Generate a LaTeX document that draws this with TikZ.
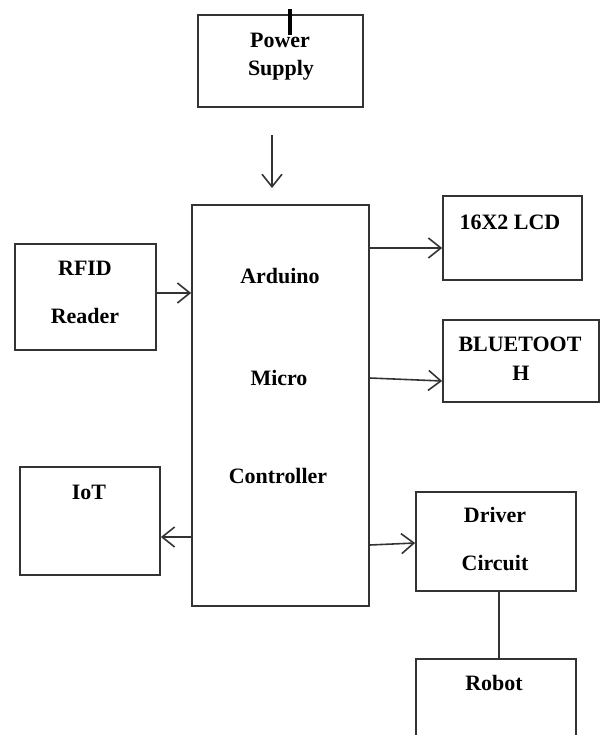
\documentclass[tikz,border=0pt]{standalone}
\usepackage{fontspec}
\setmainfont{Liberation Serif}
\usepackage{tikz}
\usetikzlibrary{arrows.meta}

\begin{document}
\begin{tikzpicture}[x=0.02cm, y=-0.02cm,
    box/.style={rectangle, draw=black!80, line width=1pt, inner sep=0pt},
    lbl/.style={font=\fontsize{12.5}{14}\selectfont\bfseries, inner sep=0pt},
    link/.style={draw=black!80, line width=0.9pt, -{Straight Barb[length=2.5mm, width=4mm]}}]

    \useasboundingbox (0,0) rectangle (601,735);
    \clip (0,0) rectangle (601,735);

    % Power supply
    \node[box, minimum width=3.3cm, minimum height=1.84cm] (psu) at (280.5,61) {};
    \node[lbl] (psu1) at (280,40) {Power};
    \node[lbl] (psu2) at (281,70) {Supply};
    \coordinate (pin1) at (290,9);
    \coordinate (pin2) at (290,35);
    \coordinate (pwr1) at (272,135);
    \coordinate (pwr2) at (272,188);

    % Controller
    \node[box, minimum width=3.54cm, minimum height=8.02cm] (ard) at (280.5,405.5) {};
    \node[lbl] (ard1) at (280,276) {Arduino};
    \node[lbl] (ard2) at (279,378) {Micro};
    \node[lbl] (ard3) at (278,476) {Controller};

    % Input side
    \node[box, minimum width=2.82cm, minimum height=2.12cm] (rfid) at (85.5,297) {};
    \node[lbl] (rfid1) at (85,268) {RFID};
    \node[lbl] (rfid2) at (85,316) {Reader};

    \node[box, minimum width=2.8cm, minimum height=2.16cm] (iot) at (90,521) {};
    \node[lbl] (iot1) at (89,492) {IoT};

    % Output side
    \node[box, minimum width=2.78cm, minimum height=1.68cm] (lcd) at (512.5,238) {};
    \node[lbl] (lcd1) at (510,222) {16X2 LCD};

    \node[box, minimum width=3.12cm, minimum height=1.64cm] (bt) at (521,361) {};
    \node[lbl] (bt1) at (520,344) {BLUETOOT};
    \node[lbl] (bt2) at (521,373) {H};

    \node[box, minimum width=3.2cm, minimum height=1.98cm] (drv) at (496,541.5) {};
    \node[lbl] (drv1) at (495,515) {Driver};
    \node[lbl] (drv2) at (495,563) {Circuit};

    \node[box, minimum width=3.2cm, minimum height=2.02cm] (robot) at (496,709.5) {};
    \node[lbl] (robot1) at (494,683) {Robot};

    \draw[black, line width=2pt] (pin1) -- (pin2);
    \draw[link] (pwr1) -- (pwr2);
    \draw[link] (rfid.east |- 0,293) -- (ard.west |- 0,293);
    \draw[link] (ard.east |- 0,248) -- (lcd.west |- 0,248);
    \draw[link] (ard.east |- 0,378) -- (bt.west |- 0,381);
    \draw[link] (ard.west |- 0,537) -- (iot.east |- 0,537);
    \draw[link] (ard.east |- 0,545) -- (drv.west |- 0,543);
    \draw[draw=black!80, line width=1pt] (drv.south -| 499,0) -- (robot.north -| 499,0);
\end{tikzpicture}
\end{document}
